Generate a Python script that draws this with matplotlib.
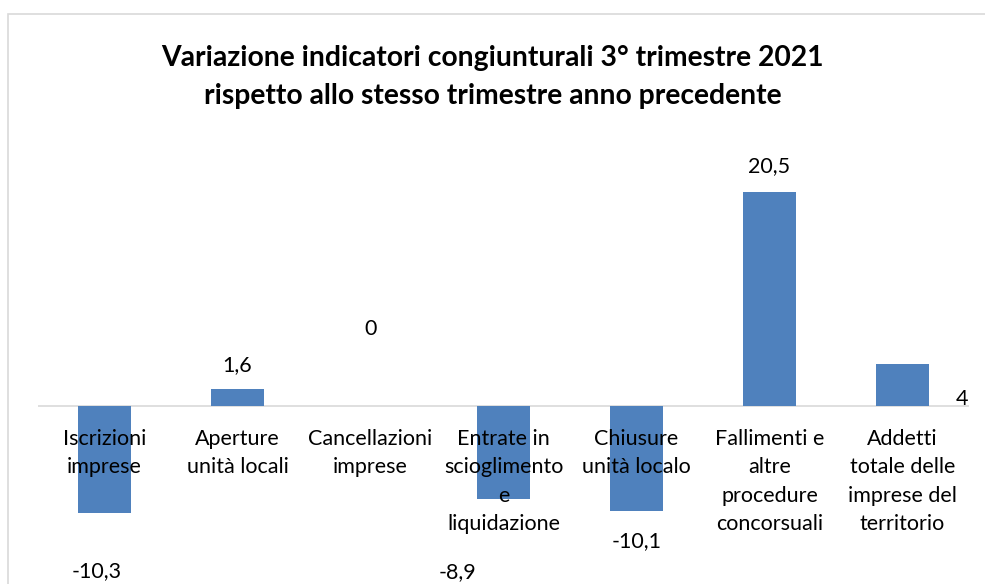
import matplotlib.pyplot as plt
from matplotlib.patches import Rectangle

plt.rcParams['font.family'] = ['Lato', 'DejaVu Sans']

# Data
categories = ["Iscrizioni\nimprese", "Aperture\nunità locali", "Cancellazioni\nimprese",
              "Entrate in\nscioglimento\ne\nliquidazione", "Chiusure\nunità localo",
              "Fallimenti e\naltre\nprocedure\nconcorsuali",
              "Addetti\ntotale delle\nimprese del\nterritorio"]
values = [-10.3, 1.6, 0, -8.9, -10.1, 20.5, 4]

# label offsets (pixels) relative to bar end, as placed in the original
label_offsets = [(-8, -58), (0, 24), (0, 77), (-46, -73), (0, -30), (0, 26), (60, -35)]


def fmt(v):
    if float(v).is_integer():
        return str(int(v))
    return f"{v:.1f}".replace('.', ',')


fig = plt.figure(figsize=(9.85, 5.84), dpi=100)
fig.patches.append(Rectangle((8 / 985, -0.1), 1.0, 1 - 14 / 584 + 0.1,
                             transform=fig.transFigure, fill=False,
                             edgecolor='#d9d9d9', linewidth=1.2))

ax = fig.add_axes([38 / 985, 0, (969 - 38) / 985, (584 - 150) / 584])
x = range(len(values))
ax.bar(x, values, width=0.4, color='#4f81bd', zorder=2)
ax.axhline(0, color='#d9d9d9', linewidth=1.2, zorder=1, xmax=1.005)
ax.set_xlim(-0.5, len(values) - 0.5)
ax.set_ylim(-17.05, 24.5)
ax.axis('off')

for i, (v, (dx, dy)) in enumerate(zip(values, label_offsets)):
    ax.annotate(fmt(v), (i, v), xytext=(dx, dy), textcoords='offset pixels',
                ha='center', va='center', fontsize=15.5, color='#000000', zorder=4)

for i, c in enumerate(categories):
    ax.annotate(c, (i, 0), xytext=(0, -23), textcoords='offset pixels',
                ha='center', va='top', fontsize=15.5, linespacing=1.52, zorder=3)

fig.text(0.5, 1 - 77 / 584, "Variazione indicatori congiunturali 3° trimestre 2021\n"
         "rispetto allo stesso trimestre anno precedente",
         ha='center', va='center', fontsize=20.3, fontweight='bold', linespacing=1.55)

fig.savefig('out.png', dpi=100)
